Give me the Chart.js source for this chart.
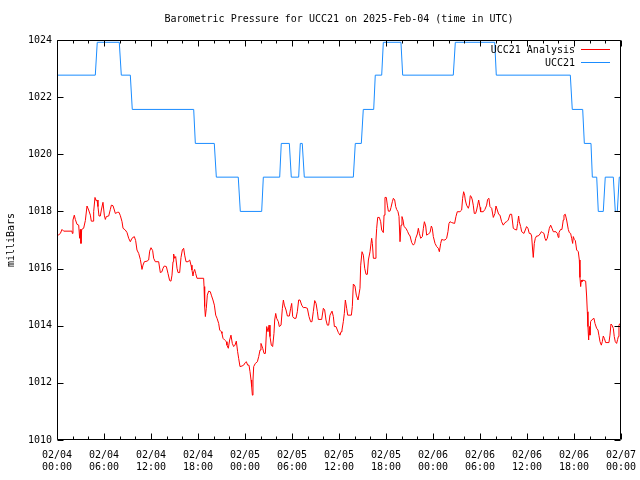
<!DOCTYPE html>
<html><head><meta charset="utf-8">
<script src="https://cdn.jsdelivr.net/npm/chart.js@4/dist/chart.umd.min.js"></script>
<style>html,body{margin:0;padding:0;background:#fff}#wrap{width:640px;height:480px}</style>
</head><body><div id="wrap"><canvas id="c" width="640" height="480"></canvas></div>
<script>
const titleText = 'Barometric Pressure for UCC21 on 2025-Feb-04 (time in UTC)';
const yAxisTitle = 'milliBars';
const seriesNames = ['UCC21 Analysis', 'UCC21'];
const tickDates = ['02/04','02/04','02/04','02/04','02/05','02/05','02/05','02/05','02/06','02/06','02/06','02/06','02/07'];
const tickTimes = ['00:00','06:00','12:00','18:00','00:00','06:00','12:00','18:00','00:00','06:00','12:00','18:00','00:00'];
const yTicks = [1010,1012,1014,1016,1018,1020,1022,1024];

// hours since 2025-02-04 00:00 UTC
const analysisHours = [
0,0.21,0.43,0.64,0.85,1.91,1.96,2.04,2.21,2.34,
2.55,2.77,2.89,2.98,3.06,3.15,3.40,3.62,3.83,4.04,
4.26,4.38,4.60,4.68,4.85,4.98,5.11,5.23,5.36,5.53,
5.66,5.87,6.04,6.17,6.30,6.60,6.81,6.94,7.15,7.32,
7.45,7.74,7.91,8.09,8.30,8.43,8.72,8.94,9.15,9.36,
9.57,9.87,10.04,10.21,10.43,10.64,10.85,10.98,11.15,11.49,
11.70,11.83,12.00,12.21,12.34,12.55,12.98,13.19,13.40,13.53,
13.70,13.96,14.17,14.38,14.55,14.68,14.81,14.89,15.02,15.15,
15.32,15.45,15.66,15.83,16.00,16.17,16.30,16.47,16.72,16.94,
17.11,17.23,17.36,17.45,17.57,17.70,17.87,18.72,18.77,18.85,
18.94,19.06,19.19,19.36,19.57,19.70,19.91,20.09,20.26,20.43,
20.64,20.77,20.98,21.06,21.19,21.40,21.62,21.70,21.87,22.04,
22.21,22.38,22.55,22.72,22.89,23.06,23.19,23.36,23.62,23.83,
24.04,24.17,24.34,24.51,24.64,24.77,24.85,24.94,25.02,25.11,
25.32,25.58,25.75,25.92,26.04,26.26,26.43,26.60,26.77,26.94,
27.07,27.19,27.36,27.53,27.70,27.79,27.92,28.04,28.26,28.38,
28.60,28.77,28.90,29.02,29.24,29.41,29.66,29.83,29.96,30.09,
30.26,30.51,30.68,30.85,31.02,31.24,31.45,31.66,31.96,32.17,
32.38,32.55,32.72,32.90,33.07,33.24,33.36,33.79,34.00,34.17,
34.34,34.51,34.68,34.85,35.11,35.28,35.41,35.62,35.79,35.92,
36.13,36.26,36.38,36.55,36.68,36.81,36.98,37.11,37.58,37.70,
37.83,38.04,38.21,38.43,38.55,38.68,38.77,38.94,39.11,39.28,
39.45,39.62,39.75,39.96,40.17,40.26,40.39,40.60,40.72,40.81,
40.94,41.15,41.32,41.45,41.66,41.75,41.87,42.04,42.17,42.30,
42.51,42.64,42.81,42.94,43.11,43.24,43.36,43.53,43.66,43.79,
43.92,44.04,44.17,44.30,44.55,44.77,44.89,45.07,45.28,45.49,
45.66,45.79,46.00,46.13,46.26,46.43,46.64,46.77,46.90,47.07,
47.19,47.40,47.62,47.79,47.91,48.04,48.26,48.47,48.68,48.81,
48.98,49.11,49.32,49.53,49.74,49.91,50.04,50.17,50.38,50.76,
50.93,51.10,51.44,51.66,51.78,51.91,52.04,52.12,52.29,52.51,
52.63,52.76,52.89,53.02,53.14,53.27,53.44,53.57,53.70,53.83,
54.00,54.08,54.42,54.63,54.85,54.97,55.14,55.27,55.49,55.70,
55.91,56.04,56.21,56.38,56.55,56.76,56.97,57.19,57.40,57.61,
57.83,58.04,58.25,58.46,58.68,58.80,58.93,59.02,59.19,59.32,
59.61,59.78,59.95,60.12,60.29,60.46,60.59,60.72,60.80,60.93,
61.06,61.23,61.44,61.66,61.83,62.00,62.17,62.29,62.42,62.59,
62.72,62.85,63.02,63.19,63.36,63.70,63.87,64.00,64.08,64.29,
64.46,64.63,64.72,64.89,65.06,65.27,65.40,65.57,65.70,65.83,
65.91,66.04,66.17,66.34,66.55,66.68,66.76,66.85,66.93,67.02,
67.10,67.49,67.61,67.70,67.78,67.87,67.95,68.04,68.12,68.25,
68.55,68.68,68.89,69.06,69.19,69.32,69.49,69.61,69.74,69.87,
70.04,70.46,70.59,70.72,70.85,71.02,71.14,71.27,71.44,71.57,
71.66,71.74,71.87
];
const analysisPressure = [
1017.18,1017.18,1017.23,1017.37,1017.31,1017.31,1017.23,1017.70,1017.87,1017.72,
1017.55,1017.52,1017.06,1017.37,1016.88,1017.37,1017.41,1017.68,1018.19,1018.05,
1017.87,1017.66,1017.66,1017.99,1018.49,1018.38,1018.40,1018.17,1017.84,1017.84,
1018.05,1018.32,1017.87,1017.72,1017.82,1017.84,1018.07,1018.22,1018.20,1018.05,
1017.93,1017.97,1017.97,1017.85,1017.64,1017.41,1017.35,1017.26,1017.06,1016.94,
1017.06,1017.12,1016.98,1016.65,1016.53,1016.32,1015.97,1016.12,1016.24,1016.26,
1016.30,1016.61,1016.73,1016.63,1016.36,1016.24,1016.24,1015.86,1015.89,1016.01,
1016.09,1016.07,1015.83,1015.58,1015.56,1015.77,1016.24,1016.51,1016.36,1016.42,
1016.01,1015.86,1015.86,1016.39,1016.65,1016.71,1016.47,1016.24,1016.24,1016.30,
1016.12,1015.95,1015.74,1015.89,1015.97,1015.83,1015.66,1015.66,1015.37,1014.67,
1014.32,1014.61,1015.07,1015.21,1015.19,1015.07,1014.90,1014.72,1014.37,1014.26,
1014.08,1013.85,1013.79,1013.73,1013.56,1013.50,1013.44,1013.32,1013.21,1013.50,
1013.67,1013.38,1013.27,1013.32,1013.46,1013.09,1012.86,1012.57,1012.59,1012.62,
1012.71,1012.74,1012.62,1012.62,1012.39,1012.10,1011.87,1011.57,1012.10,1012.57,
1012.68,1012.74,1012.92,1013.15,1013.38,1013.21,1013.03,1013.03,1013.97,1013.79,
1014.02,1013.62,1013.32,1013.27,1013.73,1014.20,1014.43,1014.26,1014.14,1013.97,
1014.02,1014.61,1014.90,1014.72,1014.55,1014.34,1014.34,1014.61,1014.78,1014.32,
1014.26,1014.26,1014.49,1014.90,1014.90,1014.72,1014.63,1014.64,1014.61,1014.32,
1014.14,1014.14,1014.49,1014.88,1014.78,1014.49,1014.22,1014.22,1014.61,1014.55,
1014.20,1014.02,1014.02,1014.37,1014.51,1014.32,1013.97,1013.97,1013.85,1013.76,
1013.67,1013.79,1013.85,1014.14,1014.43,1014.90,1014.61,1014.37,1014.37,1014.67,
1015.46,1015.39,1015.07,1014.90,1014.90,1015.31,1016.12,1016.59,1016.47,1016.01,
1015.80,1015.80,1016.30,1016.59,1017.06,1016.88,1016.36,1016.36,1017.00,1017.41,
1017.79,1017.79,1017.64,1017.35,1017.26,1017.87,1018.49,1018.49,1018.22,1018.01,
1018.01,1018.14,1018.34,1018.46,1018.40,1018.17,1018.07,1017.99,1017.82,1016.94,
1017.52,1017.82,1017.70,1017.47,1017.41,1017.29,1017.21,1017.14,1016.91,1016.82,
1016.88,1017.06,1017.21,1017.41,1017.23,1017.06,1017.12,1017.41,1017.64,1017.49,
1017.17,1017.21,1017.26,1017.49,1017.41,1017.12,1016.88,1016.77,1016.71,1016.59,
1016.88,1017.02,1017.00,1017.00,1017.06,1017.29,1017.58,1017.64,1017.61,1017.58,
1017.82,1017.99,1017.99,1018.05,1018.46,1018.69,1018.57,1018.40,1018.22,1018.11,
1018.22,1018.55,1018.52,1018.40,1018.22,1017.93,1017.93,1018.05,1018.22,1018.40,
1018.14,1017.99,1017.99,1018.07,1018.22,1018.42,1018.46,1018.17,1018.11,1017.79,
1017.93,1018.19,1018.05,1017.90,1017.87,1017.64,1017.52,1017.61,1017.64,1017.70,
1017.90,1017.90,1017.41,1017.37,1017.35,1017.58,1017.84,1017.64,1017.47,1017.29,
1017.23,1017.35,1017.47,1017.41,1017.23,1017.23,1017.14,1016.65,1016.39,1016.88,
1017.06,1017.14,1017.14,1017.21,1017.29,1017.26,1017.23,1017.06,1016.98,1017.06,
1017.23,1017.41,1017.52,1017.41,1017.29,1017.29,1017.23,1017.09,1017.26,1017.37,
1017.37,1017.70,1017.87,1017.90,1017.70,1017.37,1017.26,1017.23,1017.06,1016.88,
1017.12,1017.02,1016.98,1016.65,1016.59,1016.30,1015.69,1015.37,1015.60,1015.54,
1015.60,1015.56,1015.04,1014.49,1013.97,1013.50,1013.97,1013.67,1014.14,1014.20,
1014.26,1014.08,1013.91,1013.85,1013.65,1013.44,1013.32,1013.44,1013.64,1013.56,
1013.41,1013.41,1013.67,1014.06,1014.02,1013.91,1013.62,1013.44,1013.38,1013.52,
1013.62,1014.02,1014.08
];

const stationHours = [
0,4.89,5.14,7.95,8.21,9.36,9.61,17.45,17.66,20.08,
20.34,23.14,23.40,26.13,26.34,28.43,28.63,29.66,29.91,30.85,
31.06,31.31,31.57,37.83,38.08,38.85,39.10,40.43,40.63,41.45,
41.66,43.91,44.13,50.59,50.85,55.88,56.08,65.53,65.78,67.11,
67.32,68.17,68.34,68.90,69.10,69.74,69.99,71.02,71.27,71.53,
71.78,72
];
const stationPressure = [
1022.77,1022.77,1023.92,1023.92,1022.77,1022.77,1021.57,1021.57,1020.38,1020.38,
1019.20,1019.20,1018.00,1018.00,1019.20,1019.20,1020.38,1020.38,1019.20,1019.20,
1020.38,1020.38,1019.20,1019.20,1020.38,1020.38,1021.57,1021.57,1022.77,1022.77,
1023.92,1023.92,1022.77,1022.77,1023.92,1023.92,1022.77,1022.77,1021.57,1021.57,
1020.38,1020.38,1019.20,1019.20,1018.00,1018.00,1019.20,1019.20,1018.00,1018.00,
1019.20,1019.20
];

const MONO = "'DejaVu Sans Mono', 'Liberation Mono', monospace";
const toPoints = (xs, ys) => xs.map((h, i) => ({x: h, y: ys[i]}));

const framePlugin = {
  id: 'frameTicksLegend',
  afterDatasetsDraw(chart) {
    const {ctx, chartArea: a, scales: {x, y}} = chart;
    ctx.save();
    ctx.strokeStyle = '#000';
    ctx.lineWidth = 1;
    const L = Math.round(a.left) + 0.5, R = Math.round(a.right) - 0.5;
    const T = Math.round(a.top) + 0.5, B = Math.round(a.bottom) - 0.5;
    ctx.beginPath();
    ctx.rect(L, T, R - L, B - T);
    for (let h = x.min; h <= x.max; h += 2) {
      const px = Math.round(x.getPixelForValue(h)) + 0.5;
      const len = (h % 6 === 0) ? 6 : 3;
      ctx.moveTo(px, B); ctx.lineTo(px, B - len);
      ctx.moveTo(px, T); ctx.lineTo(px, T + len);
    }
    for (const v of yTicks) {
      const py = Math.round(y.getPixelForValue(v)) + 0.5;
      ctx.moveTo(L, py); ctx.lineTo(L + 6, py);
      ctx.moveTo(R, py); ctx.lineTo(R - 6, py);
    }
    ctx.stroke();
    // legend (top right, inside)
    ctx.font = '10px ' + MONO;
    ctx.fillStyle = '#000';
    ctx.textAlign = 'right';
    ctx.textBaseline = 'middle';
    chart.data.datasets.forEach((ds, i) => {
      const yy = Math.round(a.top) + 10 + i * 13;
      ctx.fillText(ds.label, Math.round(a.right) - 46, yy);
      ctx.beginPath();
      ctx.strokeStyle = ds.borderColor;
      ctx.moveTo(Math.round(a.right) - 40, yy - 0.5);
      ctx.lineTo(Math.round(a.right) - 11, yy - 0.5);
      ctx.stroke();
    });
    ctx.restore();
  }
};

new Chart(document.getElementById('c'), {
  type: 'line',
  data: {
    datasets: [
      {label: seriesNames[0], data: toPoints(analysisHours, analysisPressure), borderColor: '#ff0000', borderWidth: 1, pointRadius: 0, tension: 0, fill: false},
      {label: seriesNames[1], data: toPoints(stationHours, stationPressure), borderColor: '#1a8cff', borderWidth: 1, pointRadius: 0, tension: 0, fill: false}
    ]
  },
  options: {
    responsive: false,
    animation: false,
    devicePixelRatio: 1,
    layout: {padding: {left: 0, right: 19, top: 0, bottom: 0}},
    plugins: {
      legend: {display: false},
      tooltip: {enabled: false},
      title: {display: true, fullSize: false, text: titleText, color: '#000', font: {family: MONO, size: 10, weight: 'normal'}, padding: {top: 13, bottom: 15}}
    },
    scales: {
      x: {
        type: 'linear', min: 0, max: 72,
        grid: {display: false, drawTicks: false},
        border: {display: false},
        ticks: {stepSize: 6, autoSkip: false, maxRotation: 0, minRotation: 0, padding: 9, color: '#000',
          font: {family: MONO, size: 10},
          callback: (v) => { const i = Math.round(v / 6); return [tickDates[i], tickTimes[i]]; }},
        afterFit: (s) => { s.height = 40; s.paddingLeft = 0; s.paddingRight = 0; }
      },
      y: {
        type: 'linear', min: 1010, max: 1024,
        grid: {display: false, drawTicks: false},
        border: {display: false},
        ticks: {stepSize: 2, padding: 5, color: '#000', font: {family: MONO, size: 10},
          callback: (v) => String(v)},
        title: {display: true, text: yAxisTitle, color: '#000', font: {family: MONO, size: 10}, padding: {top: 5, bottom: 0}},
        afterFit: (s) => { s.width = 57; s.paddingTop = 0; s.paddingBottom = 0; }
      }
    }
  },
  plugins: [framePlugin]
});
</script>
</body></html>
